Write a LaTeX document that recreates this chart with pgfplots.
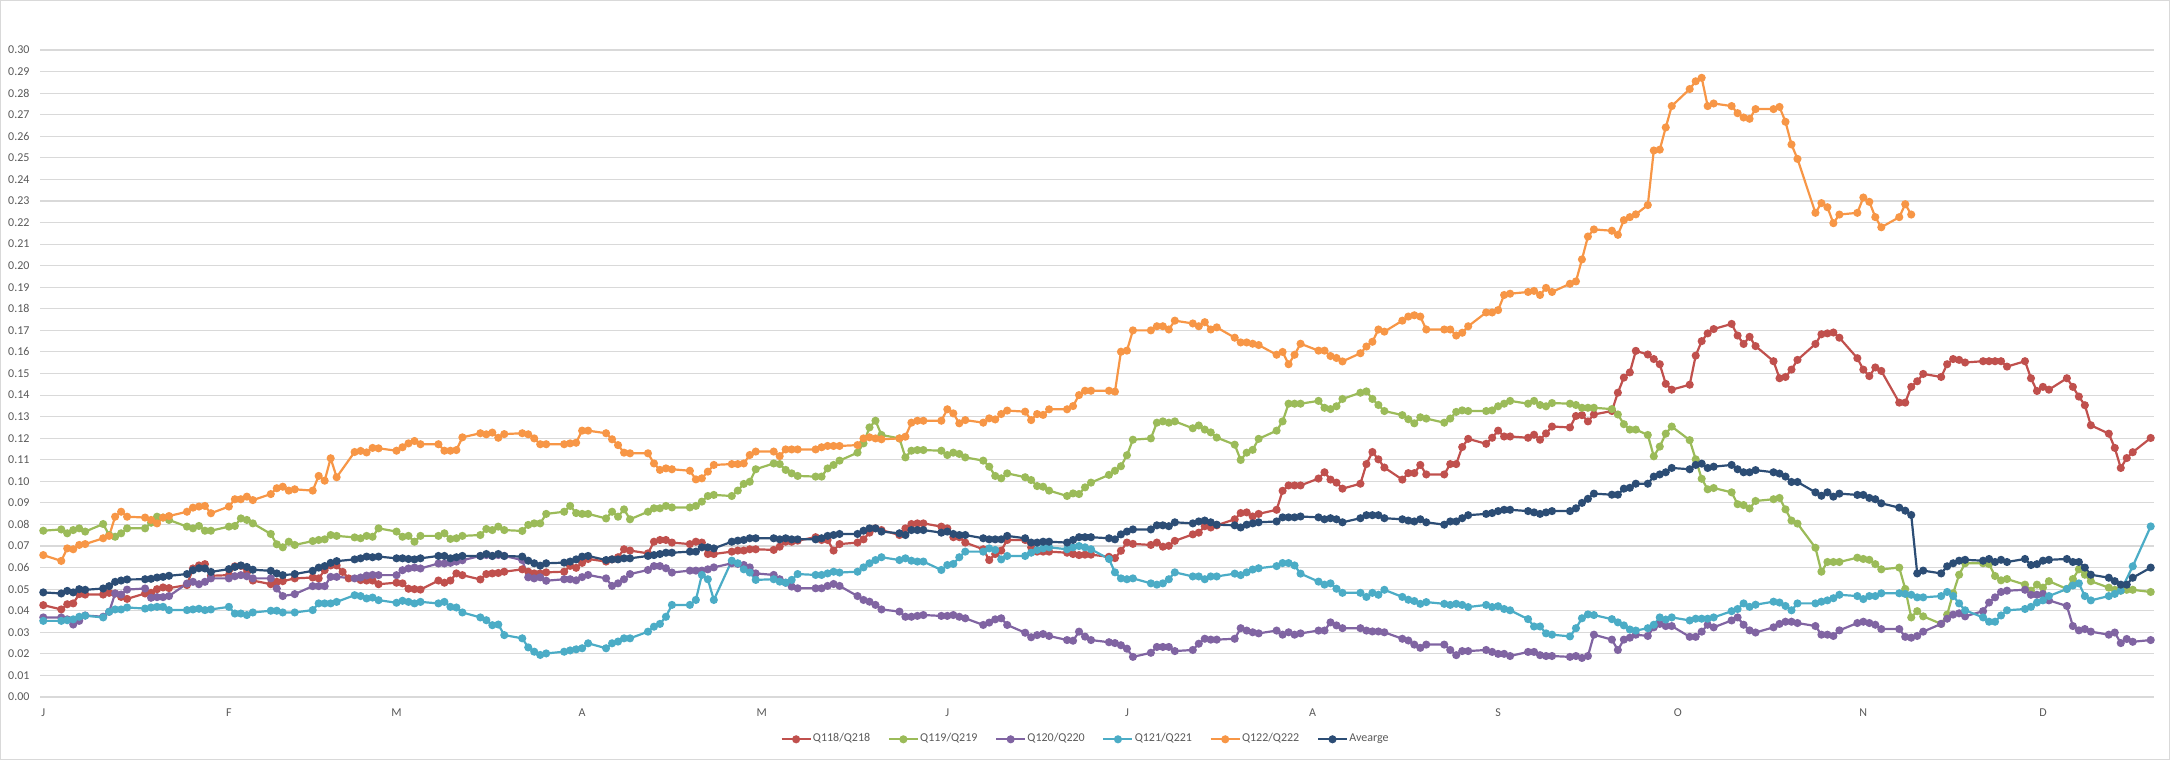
\documentclass[border=0pt]{standalone}
\usepackage{fontspec}
\setmainfont{Carlito}
\usepackage{pgfplots}
\pgfplotsset{compat=1.18}
\definecolor{cA}{HTML}{C0504D}
\definecolor{cB}{HTML}{9BBB59}
\definecolor{cC}{HTML}{8064A2}
\definecolor{cD}{HTML}{4BACC6}
\definecolor{cE}{HTML}{F79646}
\definecolor{cF}{HTML}{2C4D75}
\definecolor{txt}{HTML}{595959}
\definecolor{grd}{HTML}{D9D9D9}
\begin{document}
\begin{tikzpicture}
\path[use as bounding box] (-20.15pt,-31.5pt) rectangle (1064.85pt,348.5pt);
\draw[grd, line width=0.6pt] (-19.85pt,-31.2pt) rectangle (1064.55pt,348.2pt);
\begin{axis}[
  scale only axis,
  width=1056.7pt, height=323.5pt,
  xmin=-0.5, xmax=352.5, ymin=0, ymax=0.30,
  clip=false,
  axis line style={draw=none},
  tick style={draw=none},
  ymajorgrids, grid style={grd, line width=0.55pt},
  ytick={0,0.01,0.02,0.03,0.04,0.05,0.06,0.07,0.08,0.09,0.10,0.11,0.12,0.13,0.14,0.15,0.16,0.17,0.18,0.19,0.20,0.21,0.22,0.23,0.24,0.25,0.26,0.27,0.28,0.29,0.30},
  xtick={0,31,59,90,120,151,181,212,243,273,304,334},
  xticklabels={J,F,M,A,M,J,J,A,S,O,N,D},
  /pgf/number format/.cd, fixed, fixed zerofill, precision=2, assume math mode=true,
  /pgfplots/.cd,
  scaled y ticks=false,
  tick label style={font=\fontsize{6}{7}\selectfont, text=txt},
  yticklabel style={inner sep=0pt, anchor=east, xshift=-5.2pt},
  xticklabel style={inner sep=0pt, anchor=base, yshift=-10pt},
  every axis plot/.append style={line width=1.1pt, mark=*, mark size=1.45pt, mark options={solid}},
  legend columns=6,
  legend style={draw=none, fill=none, at={(0.4944,-0.0654)}, anchor=center,
    font=\fontsize{6}{7}\selectfont, text=txt,
    nodes={inner sep=0.6pt},
    /tikz/every even column/.append style={column sep=8.2pt}},
  legend image code/.code={\draw[mark repeat=2,mark phase=2,#1] plot coordinates {(0pt,0pt) (7.25pt,0pt) (14.5pt,0pt)};},
]
\addplot[color=cA] coordinates {(0,.0426)(3,.0406)(4,.0430)(5,.0434)(6,.0477)(7,.0475)(10,.0475)(11,.0483)(12,.0480)(13,.0464)(14,.0455)(17,.0480)(18,.0483)(19,.0500)(20,.0508)(21,.0505)(24,.0519)(25,.0596)(26,.0610)(27,.0616)(28,.0562)(31,.0565)(32,.0606)(33,.0608)(34,.0576)(35,.0540)(38,.0523)(39,.0534)(40,.0537)(42,.0550)(45,.0554)(46,.0550)(47,.0588)(48,.0610)(49,.0610)(50,.0580)(51,.0550)(53,.0542)(54,.0540)(55,.0540)(56,.0523)(59,.0530)(60,.0527)(61,.0502)(62,.0500)(63,.0498)(66,.0540)(67,.0530)(68,.0540)(69,.0573)(70,.0565)(73,.0545)(74,.0570)(75,.0573)(76,.0575)(77,.0581)(80,.0592)(81,.0581)(82,.0573)(83,.0573)(84,.0578)(87,.0581)(88,.0608)(89,.0599)(90,.0622)(91,.0640)(94,.0628)(95,.0638)(96,.0648)(97,.0685)(98,.0679)(101,.0666)(102,.0720)(103,.0728)(104,.0728)(105,.0716)(108,.0709)(109,.0720)(110,.0716)(111,.0663)(112,.0663)(115,.0674)(116,.0679)(117,.0679)(118,.0685)(119,.0685)(122,.0682)(123,.0697)(124,.0720)(125,.0720)(126,.0725)(129,.0741)(130,.0728)(131,.0728)(132,.0679)(133,.0709)(136,.0716)(137,.0731)(138,.0762)(139,.0782)(140,.0774)(143,.0751)(144,.0782)(145,.0802)(146,.0805)(147,.0805)(150,.0790)(151,.0782)(152,.0741)(153,.0741)(154,.0716)(157,.0685)(158,.0635)(159,.0663)(160,.0679)(161,.0728)(164,.0728)(165,.0694)(166,.0674)(167,.0674)(168,.0674)(171,.0669)(172,.0663)(173,.0658)(174,.0660)(175,.0660)(178,.0650)(179,.0644)(180,.0678)(181,.0716)(182,.0710)(185,.0705)(186,.0716)(187,.0697)(188,.0701)(189,.0724)(192,.0754)(193,.0762)(194,.0792)(195,.0786)(196,.0796)(199,.0824)(200,.0853)(201,.0856)(202,.0837)(203,.0849)(206,.0868)(207,.0956)(208,.0981)(209,.0981)(210,.0981)(213,.1013)(214,.1042)(215,.1008)(216,.0994)(217,.0966)(220,.0989)(221,.1080)(222,.1136)(223,.1102)(224,.1064)(227,.1008)(228,.1038)(229,.1038)(230,.1076)(231,.1032)(234,.1032)(235,.1080)(236,.1080)(237,.1159)(238,.1197)(241,.1174)(242,.1202)(243,.1235)(244,.1208)(245,.1208)(248,.1202)(249,.1216)(250,.1193)(251,.1222)(252,.1254)(255,.1250)(256,.1303)(257,.1307)(258,.1278)(259,.1310)(262,.1326)(263,.1411)(264,.1481)(265,.1505)(266,.1605)(268,.1588)(269,.1567)(270,.1543)(271,.1452)(272,.1425)(275,.1448)(276,.1583)(277,.1650)(278,.1686)(279,.1706)(282,.1730)(283,.1676)(284,.1637)(285,.1670)(286,.1627)(289,.1557)(290,.1478)(291,.1484)(292,.1518)(293,.1563)(296,.1637)(297,.1682)(298,.1686)(299,.1690)(300,.1666)(303,.1571)(304,.1518)(305,.1488)(306,.1528)(307,.1512)(310,.1365)(311,.1365)(312,.1438)(313,.1464)(314,.1498)(317,.1484)(318,.1543)(319,.1567)(320,.1563)(321,.1551)(324,.1557)(325,.1557)(326,.1557)(327,.1557)(328,.1532)(331,.1557)(332,.1478)(333,.1419)(334,.1438)(335,.1425)(338,.1478)(339,.1438)(340,.1393)(341,.1353)(342,.1260)(345,.1221)(346,.1155)(347,.1062)(348,.1108)(349,.1135)(352,.1201)};
\addlegendentry{Q118/Q218}
\addplot[color=cB] coordinates {(0,.0771)(3,.0777)(4,.0759)(5,.0774)(6,.0782)(7,.0767)(10,.0802)(11,.0751)(12,.0743)(13,.0759)(14,.0782)(17,.0782)(18,.0808)(19,.0836)(20,.0832)(21,.0821)(24,.0790)(25,.0782)(26,.0793)(27,.0771)(28,.0771)(31,.0790)(32,.0793)(33,.0828)(34,.0821)(35,.0805)(38,.0756)(39,.0708)(40,.0694)(41,.0720)(42,.0705)(45,.0723)(46,.0728)(47,.0731)(48,.0751)(49,.0747)(52,.0740)(53,.0736)(54,.0747)(55,.0743)(56,.0782)(59,.0767)(60,.0743)(61,.0747)(62,.0720)(63,.0747)(66,.0747)(67,.0759)(68,.0733)(69,.0736)(70,.0747)(73,.0751)(74,.0779)(75,.0774)(76,.0790)(77,.0774)(80,.0770)(81,.0798)(82,.0805)(83,.0805)(84,.0849)(87,.0859)(88,.0886)(89,.0853)(90,.0849)(91,.0849)(94,.0828)(95,.0859)(96,.0836)(97,.0870)(98,.0824)(101,.0859)(102,.0875)(103,.0875)(104,.0886)(105,.0879)(108,.0879)(109,.0886)(110,.0906)(111,.0932)(112,.0937)(115,.0932)(116,.0957)(117,.0988)(118,.0998)(119,.1056)(122,.1083)(123,.1080)(124,.1053)(125,.1037)(126,.1025)(129,.1022)(130,.1022)(131,.1060)(132,.1076)(133,.1096)(136,.1133)(137,.1176)(138,.1250)(139,.1281)(140,.1215)(143,.1199)(144,.1111)(145,.1142)(146,.1145)(147,.1145)(150,.1142)(151,.1122)(152,.1133)(153,.1127)(154,.1111)(157,.1096)(158,.1068)(159,.1025)(160,.1014)(161,.1037)(164,.1019)(165,.1006)(166,.0978)(167,.0975)(168,.0957)(171,.0932)(172,.0944)(173,.0941)(174,.0972)(175,.0994)(178,.1030)(179,.1049)(180,.1070)(181,.1121)(182,.1193)(185,.1199)(186,.1272)(187,.1278)(188,.1272)(189,.1278)(192,.1246)(193,.1259)(194,.1240)(195,.1227)(196,.1203)(199,.1170)(200,.1099)(201,.1133)(202,.1146)(203,.1197)(206,.1235)(207,.1278)(208,.1360)(209,.1360)(210,.1360)(213,.1373)(214,.1341)(215,.1335)(216,.1348)(217,.1382)(220,.1411)(221,.1417)(222,.1382)(223,.1354)(224,.1326)(227,.1307)(228,.1288)(229,.1269)(230,.1297)(231,.1291)(234,.1272)(235,.1291)(236,.1322)(237,.1329)(238,.1326)(241,.1326)(242,.1329)(243,.1348)(244,.1360)(245,.1373)(248,.1360)(249,.1373)(250,.1354)(251,.1348)(252,.1363)(255,.1360)(256,.1354)(257,.1341)(258,.1341)(259,.1341)(262,.1335)(263,.1310)(264,.1265)(265,.1240)(266,.1240)(268,.1215)(269,.1116)(270,.1161)(271,.1221)(272,.1254)(275,.1191)(276,.1102)(277,.1012)(278,.0963)(279,.0969)(282,.0949)(283,.0894)(284,.0890)(285,.0874)(286,.0909)(289,.0917)(290,.0923)(291,.0870)(292,.0818)(293,.0804)(296,.0692)(297,.0581)(298,.0626)(299,.0626)(300,.0626)(303,.0646)(304,.0640)(305,.0636)(306,.0616)(307,.0592)(310,.0600)(311,.0501)(312,.0369)(313,.0398)(314,.0374)(317,.0339)(318,.0382)(319,.0481)(320,.0567)(321,.0620)(324,.0620)(325,.0616)(326,.0561)(327,.0541)(328,.0547)(331,.0521)(332,.0493)(333,.0521)(334,.0507)(335,.0537)(338,.0501)(339,.0547)(340,.0592)(341,.0567)(342,.0537)(345,.0507)(346,.0497)(347,.0493)(348,.0497)(349,.0497)(352,.0487)};
\addlegendentry{Q119/Q219}
\addplot[color=cC] coordinates {(0,.0369)(3,.0369)(4,.0360)(5,.0336)(6,.0353)(7,.0378)(10,.0372)(11,.0395)(12,.0480)(13,.0475)(14,.0498)(17,.0503)(18,.0460)(19,.0463)(20,.0463)(21,.0468)(24,.0526)(25,.0534)(26,.0523)(27,.0534)(28,.0550)(31,.0550)(32,.0560)(33,.0565)(34,.0560)(35,.0550)(38,.0550)(39,.0503)(40,.0468)(42,.0477)(45,.0514)(46,.0514)(47,.0514)(48,.0557)(49,.0557)(52,.0550)(53,.0554)(54,.0563)(55,.0566)(56,.0565)(59,.0565)(60,.0588)(61,.0596)(62,.0600)(63,.0596)(66,.0619)(67,.0619)(68,.0622)(69,.0628)(70,.0634)(73,.0654)(74,.0658)(75,.0654)(76,.0658)(77,.0654)(80,.0635)(81,.0555)(82,.0550)(83,.0555)(84,.0539)(87,.0546)(88,.0546)(89,.0541)(90,.0556)(91,.0566)(94,.0550)(95,.0515)(96,.0527)(97,.0546)(98,.0570)(101,.0589)(102,.0607)(103,.0607)(104,.0597)(105,.0577)(108,.0586)(109,.0586)(110,.0586)(111,.0592)(112,.0601)(115,.0620)(116,.0617)(117,.0612)(118,.0601)(119,.0573)(122,.0566)(123,.0546)(124,.0530)(125,.0512)(126,.0504)(129,.0504)(130,.0504)(131,.0515)(132,.0524)(133,.0515)(136,.0468)(137,.0450)(138,.0442)(139,.0427)(140,.0406)(143,.0396)(144,.0372)(145,.0372)(146,.0376)(147,.0380)(150,.0376)(151,.0376)(152,.0380)(153,.0372)(154,.0365)(157,.0334)(158,.0345)(159,.0360)(160,.0365)(161,.0334)(164,.0298)(165,.0277)(166,.0287)(167,.0292)(168,.0283)(171,.0264)(172,.0261)(173,.0303)(174,.0280)(175,.0264)(178,.0254)(179,.0250)(180,.0240)(181,.0224)(182,.0186)(185,.0205)(186,.0232)(187,.0232)(188,.0232)(189,.0213)(192,.0218)(193,.0247)(194,.0270)(195,.0266)(196,.0266)(199,.0270)(200,.0319)(201,.0308)(202,.0300)(203,.0295)(206,.0308)(207,.0289)(208,.0300)(209,.0289)(210,.0295)(213,.0308)(214,.0308)(215,.0346)(216,.0332)(217,.0319)(220,.0319)(221,.0308)(222,.0304)(223,.0304)(224,.0300)(227,.0270)(228,.0262)(229,.0243)(230,.0228)(231,.0243)(234,.0243)(235,.0218)(236,.0194)(237,.0213)(238,.0213)(241,.0218)(242,.0209)(243,.0200)(244,.0200)(245,.0190)(248,.0209)(249,.0209)(250,.0194)(251,.0190)(252,.0190)(255,.0186)(256,.0190)(257,.0181)(258,.0190)(259,.0289)(262,.0266)(263,.0218)(264,.0266)(265,.0275)(266,.0289)(268,.0283)(269,.0323)(270,.0339)(271,.0329)(272,.0329)(275,.0279)(276,.0279)(277,.0303)(278,.0335)(279,.0323)(282,.0355)(283,.0369)(284,.0335)(285,.0309)(286,.0299)(289,.0323)(290,.0339)(291,.0349)(292,.0349)(293,.0343)(296,.0329)(297,.0289)(298,.0289)(299,.0283)(300,.0309)(303,.0343)(304,.0349)(305,.0343)(306,.0335)(307,.0315)(310,.0315)(311,.0279)(312,.0275)(313,.0283)(314,.0303)(317,.0339)(318,.0363)(319,.0382)(320,.0388)(321,.0374)(324,.0398)(325,.0438)(326,.0462)(327,.0487)(328,.0493)(331,.0497)(332,.0474)(333,.0474)(334,.0478)(335,.0448)(338,.0422)(339,.0329)(340,.0309)(341,.0315)(342,.0303)(345,.0289)(346,.0299)(347,.0250)(348,.0269)(349,.0256)(352,.0264)};
\addlegendentry{Q120/Q220}
\addplot[color=cD] coordinates {(0,.0353)(3,.0353)(4,.0356)(5,.0360)(6,.0372)(7,.0377)(10,.0369)(11,.0395)(12,.0406)(13,.0406)(14,.0415)(17,.0410)(18,.0415)(19,.0418)(20,.0418)(21,.0403)(24,.0403)(25,.0406)(26,.0409)(27,.0403)(28,.0406)(31,.0418)(32,.0387)(33,.0387)(34,.0380)(35,.0392)(38,.0400)(39,.0400)(40,.0392)(42,.0392)(45,.0403)(46,.0434)(47,.0434)(48,.0434)(49,.0441)(52,.0472)(53,.0468)(54,.0457)(55,.0461)(56,.0449)(59,.0437)(60,.0446)(61,.0441)(62,.0434)(63,.0441)(66,.0434)(67,.0441)(68,.0418)(69,.0415)(70,.0392)(73,.0369)(74,.0356)(75,.0333)(76,.0336)(77,.0287)(80,.0272)(81,.0230)(82,.0210)(83,.0195)(84,.0202)(87,.0210)(88,.0216)(89,.0221)(90,.0226)(91,.0249)(94,.0226)(95,.0249)(96,.0257)(97,.0272)(98,.0272)(101,.0303)(102,.0326)(103,.0339)(104,.0372)(105,.0427)(108,.0427)(109,.0450)(110,.0566)(111,.0546)(112,.0450)(115,.0632)(116,.0620)(117,.0592)(118,.0577)(119,.0543)(122,.0546)(123,.0535)(124,.0530)(125,.0543)(126,.0570)(129,.0566)(130,.0566)(131,.0573)(132,.0581)(133,.0577)(136,.0581)(137,.0601)(138,.0620)(139,.0635)(140,.0648)(143,.0635)(144,.0643)(145,.0632)(146,.0628)(147,.0628)(150,.0589)(151,.0612)(152,.0617)(153,.0648)(154,.0674)(157,.0674)(158,.0689)(159,.0682)(160,.0638)(161,.0654)(164,.0654)(165,.0669)(166,.0682)(167,.0689)(168,.0694)(171,.0685)(172,.0694)(173,.0700)(174,.0694)(175,.0685)(178,.0640)(179,.0578)(180,.0550)(181,.0546)(182,.0550)(185,.0527)(186,.0521)(187,.0527)(188,.0546)(189,.0578)(192,.0559)(193,.0559)(194,.0546)(195,.0559)(196,.0559)(199,.0572)(200,.0565)(201,.0578)(202,.0591)(203,.0597)(206,.0607)(207,.0621)(208,.0621)(209,.0610)(210,.0572)(213,.0535)(214,.0521)(215,.0527)(216,.0502)(217,.0483)(220,.0483)(221,.0464)(222,.0483)(223,.0474)(224,.0497)(227,.0464)(228,.0451)(229,.0445)(230,.0432)(231,.0440)(234,.0432)(235,.0427)(236,.0432)(237,.0427)(238,.0417)(241,.0427)(242,.0417)(243,.0421)(244,.0408)(245,.0402)(248,.0361)(249,.0327)(250,.0327)(251,.0295)(252,.0289)(255,.0281)(256,.0319)(257,.0365)(258,.0383)(259,.0380)(262,.0361)(263,.0346)(264,.0332)(265,.0313)(266,.0308)(268,.0319)(269,.0335)(270,.0369)(271,.0359)(272,.0369)(275,.0355)(276,.0363)(277,.0363)(278,.0363)(279,.0369)(282,.0398)(283,.0408)(284,.0434)(285,.0418)(286,.0428)(289,.0442)(290,.0438)(291,.0422)(292,.0402)(293,.0434)(296,.0434)(297,.0442)(298,.0448)(299,.0458)(300,.0474)(303,.0468)(304,.0454)(305,.0468)(306,.0468)(307,.0481)(310,.0481)(311,.0478)(312,.0474)(313,.0462)(314,.0462)(317,.0468)(318,.0487)(319,.0468)(320,.0434)(321,.0402)(324,.0369)(325,.0349)(326,.0349)(327,.0378)(328,.0402)(331,.0408)(332,.0418)(333,.0438)(334,.0448)(335,.0468)(338,.0501)(339,.0517)(340,.0527)(341,.0468)(342,.0448)(345,.0468)(346,.0478)(347,.0493)(349,.0606)(352,.0791)};
\addlegendentry{Q121/Q221}
\addplot[color=cE] coordinates {(0,.0658)(3,.0631)(4,.0689)(5,.0685)(6,.0705)(7,.0709)(10,.0736)(11,.0747)(12,.0836)(13,.0859)(14,.0836)(17,.0832)(18,.0821)(19,.0805)(20,.0832)(21,.0839)(24,.0859)(25,.0878)(26,.0883)(27,.0886)(28,.0852)(31,.0883)(32,.0917)(33,.0917)(34,.0929)(35,.0913)(38,.0941)(39,.0968)(40,.0975)(41,.0957)(42,.0963)(45,.0957)(46,.1025)(47,.1003)(48,.1107)(49,.1019)(52,.1136)(53,.1141)(54,.1134)(55,.1155)(56,.1153)(59,.1142)(60,.1158)(61,.1176)(62,.1187)(63,.1172)(66,.1172)(67,.1142)(68,.1142)(69,.1145)(70,.1204)(73,.1223)(74,.1218)(75,.1226)(76,.1202)(77,.1219)(80,.1223)(81,.1218)(82,.1199)(83,.1172)(84,.1172)(87,.1172)(88,.1176)(89,.1179)(90,.1235)(91,.1235)(94,.1223)(95,.1195)(96,.1168)(97,.1133)(98,.1130)(101,.1130)(102,.1083)(103,.1053)(104,.1060)(105,.1056)(108,.1049)(109,.1009)(110,.1014)(111,.1045)(112,.1076)(115,.1080)(116,.1080)(117,.1083)(118,.1122)(119,.1138)(122,.1138)(123,.1117)(124,.1148)(125,.1148)(126,.1148)(129,.1148)(130,.1158)(131,.1164)(132,.1164)(133,.1164)(136,.1168)(137,.1199)(138,.1204)(139,.1199)(140,.1195)(143,.1199)(144,.1207)(145,.1272)(146,.1281)(147,.1281)(150,.1281)(151,.1334)(152,.1315)(153,.1269)(154,.1284)(157,.1272)(158,.1292)(159,.1287)(160,.1312)(161,.1328)(164,.1323)(165,.1284)(166,.1312)(167,.1308)(168,.1334)(171,.1334)(172,.1349)(173,.1400)(174,.1420)(175,.1420)(178,.1420)(179,.1416)(180,.1601)(181,.1606)(182,.1700)(185,.1700)(186,.1719)(187,.1719)(188,.1704)(189,.1745)(192,.1732)(193,.1719)(194,.1738)(195,.1704)(196,.1714)(199,.1666)(200,.1644)(201,.1644)(202,.1638)(203,.1632)(206,.1587)(207,.1600)(208,.1543)(209,.1587)(210,.1638)(213,.1606)(214,.1606)(215,.1581)(216,.1572)(217,.1556)(220,.1594)(221,.1625)(222,.1647)(223,.1704)(224,.1694)(227,.1745)(228,.1764)(229,.1770)(230,.1764)(231,.1704)(234,.1704)(235,.1704)(236,.1676)(237,.1689)(238,.1719)(241,.1783)(242,.1783)(243,.1794)(244,.1864)(245,.1870)(248,.1878)(249,.1883)(250,.1864)(251,.1897)(252,.1878)(255,.1916)(256,.1927)(257,.2029)(258,.2135)(259,.2168)(262,.2162)(263,.2143)(264,.2211)(265,.2225)(266,.2238)(268,.2281)(269,.2534)(270,.2538)(271,.2641)(272,.2740)(275,.2819)(276,.2855)(277,.2871)(278,.2740)(279,.2752)(282,.2740)(283,.2707)(284,.2687)(285,.2681)(286,.2726)(289,.2726)(290,.2736)(291,.2667)(292,.2562)(293,.2495)(296,.2245)(297,.2290)(298,.2271)(299,.2197)(300,.2237)(303,.2245)(304,.2316)(305,.2296)(306,.2225)(307,.2178)(310,.2225)(311,.2285)(312,.2237)};
\addlegendentry{Q122/Q222}
\addplot[color=cF] coordinates {(0,.0485)(3,.0480)(4,.0492)(5,.0485)(6,.0500)(7,.0497)(10,.0503)(11,.0514)(12,.0534)(13,.0540)(14,.0545)(17,.0546)(18,.0548)(19,.0554)(20,.0557)(21,.0562)(24,.0570)(25,.0588)(26,.0597)(27,.0596)(28,.0580)(31,.0593)(32,.0603)(33,.0610)(34,.0603)(35,.0590)(38,.0585)(39,.0573)(40,.0565)(42,.0570)(45,.0585)(46,.0600)(47,.0607)(48,.0622)(49,.0630)(52,.0638)(53,.0643)(54,.0651)(55,.0648)(56,.0651)(59,.0643)(60,.0643)(61,.0640)(62,.0638)(63,.0643)(66,.0654)(67,.0654)(68,.0643)(69,.0648)(70,.0654)(73,.0654)(74,.0663)(75,.0654)(76,.0663)(77,.0654)(80,.0651)(81,.0632)(82,.0620)(83,.0609)(84,.0620)(87,.0623)(88,.0628)(89,.0638)(90,.0651)(91,.0654)(94,.0635)(95,.0638)(96,.0638)(97,.0643)(98,.0643)(101,.0654)(102,.0658)(103,.0663)(104,.0669)(105,.0669)(108,.0674)(109,.0674)(110,.0694)(111,.0694)(112,.0689)(115,.0720)(116,.0725)(117,.0728)(118,.0736)(119,.0736)(122,.0736)(123,.0731)(124,.0736)(125,.0731)(126,.0731)(129,.0731)(130,.0736)(131,.0747)(132,.0751)(133,.0756)(136,.0756)(137,.0771)(138,.0782)(139,.0782)(140,.0767)(143,.0759)(144,.0751)(145,.0774)(146,.0774)(147,.0774)(150,.0762)(151,.0767)(152,.0756)(153,.0751)(154,.0751)(157,.0736)(158,.0731)(159,.0731)(160,.0731)(161,.0747)(164,.0736)(165,.0716)(166,.0716)(167,.0720)(168,.0720)(171,.0716)(172,.0728)(173,.0741)(174,.0741)(175,.0741)(178,.0736)(179,.0731)(180,.0754)(181,.0767)(182,.0777)(185,.0777)(186,.0796)(187,.0796)(188,.0792)(189,.0810)(192,.0805)(193,.0814)(194,.0818)(195,.0810)(196,.0799)(199,.0796)(200,.0786)(201,.0799)(202,.0805)(203,.0810)(206,.0814)(207,.0833)(208,.0833)(209,.0833)(210,.0837)(213,.0833)(214,.0824)(215,.0829)(216,.0824)(217,.0810)(220,.0829)(221,.0843)(222,.0843)(223,.0843)(224,.0829)(227,.0824)(228,.0818)(229,.0814)(230,.0824)(231,.0810)(234,.0799)(235,.0814)(236,.0814)(237,.0829)(238,.0843)(241,.0849)(242,.0853)(243,.0862)(244,.0868)(245,.0868)(248,.0862)(249,.0856)(250,.0849)(251,.0856)(252,.0862)(255,.0862)(256,.0875)(257,.0900)(258,.0919)(259,.0943)(262,.0938)(263,.0938)(264,.0966)(265,.0970)(266,.0989)(268,.0989)(269,.1022)(270,.1032)(271,.1042)(272,.1062)(275,.1056)(276,.1076)(277,.1082)(278,.1062)(279,.1068)(282,.1076)(283,.1056)(284,.1042)(285,.1042)(286,.1052)(289,.1042)(290,.1036)(291,.1022)(292,.0997)(293,.0997)(296,.0949)(297,.0933)(298,.0949)(299,.0929)(300,.0943)(303,.0937)(304,.0937)(305,.0923)(306,.0917)(307,.0898)(310,.0878)(311,.0864)(312,.0844)(313,.0573)(314,.0586)(317,.0573)(318,.0606)(319,.0620)(320,.0632)(321,.0636)(324,.0632)(325,.0640)(326,.0626)(327,.0636)(328,.0626)(331,.0640)(332,.0612)(333,.0616)(334,.0632)(335,.0636)(338,.0640)(339,.0626)(340,.0626)(341,.0600)(342,.0567)(345,.0553)(346,.0537)(347,.0521)(348,.0521)(349,.0553)(352,.0600)};
\addlegendentry{Avearge}
\end{axis}
\end{tikzpicture}
\end{document}
